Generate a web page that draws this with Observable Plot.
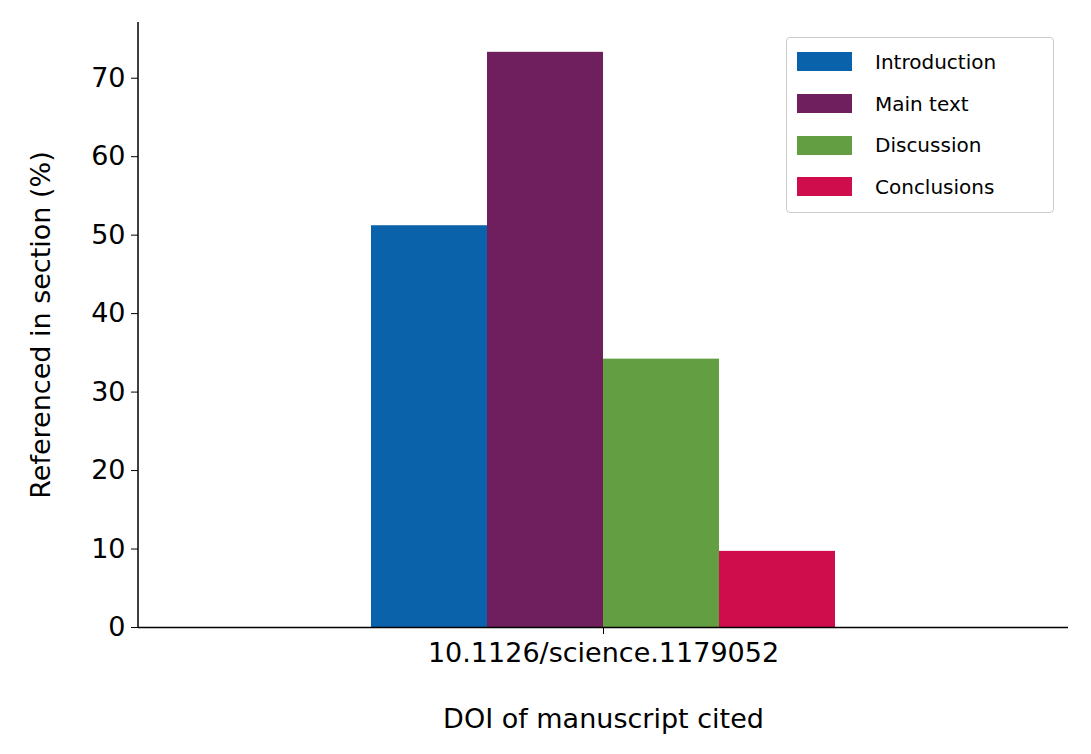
<!DOCTYPE html>
<html>
<head>
<meta charset="utf-8">
<script src="https://cdn.jsdelivr.net/npm/d3@7"></script>
<script src="https://cdn.jsdelivr.net/npm/@observablehq/plot@0.6"></script>
<style>
  body { margin: 0; font-family: "DejaVu Sans", sans-serif; }
  #chart { position: relative; width: 1091px; height: 754px; }
  #legend { position: absolute; left: 786px; top: 37px; width: 268px; height: 176px;
    border: 1px solid #ccc; border-radius: 4px; background: #fff; box-sizing: border-box;
    padding: 3px 0 0 10px; font-size: 20px; }
  .item { display: flex; align-items: center; height: 41.7px; }
  .sw { width: 55px; height: 19px; margin-right: 23px; }
</style>
</head>
<body>
<div id="chart"></div>
<script>
const doi = "10.1126/science.1179052"
const sections = ["Introduction", "Main text", "Discussion", "Conclusions"]
const values = [51.2, 73.3, 34.2, 9.7]
const colors = ["#0a62ab", "#6f1f5e", "#639f42", "#cf0d4c"]

const data = sections.map((s, i) => ({doi, section: s, value: values[i]}))

let chart = Plot.plot({
  width: 1091,
  height: 754,
  marginLeft: 138,
  marginRight: 23,
  marginTop: 22,
  marginBottom: 127,
  style: {fontFamily: "DejaVu Sans, sans-serif", fontSize: "27px", color: "#000"},
  fx: {padding: 0},
  x: {domain: sections, paddingInner: 0, paddingOuter: 2, axis: null},
  y: {domain: [0, 77.1]},
  color: {domain: sections, range: colors},
  marks: [
    Plot.barY(data, {fx: "doi", x: "section", y: "value", fill: "section", inset: 0}),
    Plot.ruleY([0], {stroke: "#000", strokeWidth: 1.5}),
    Plot.axisY({ticks: [0, 10, 20, 30, 40, 50, 60, 70], tickSize: 7, tickPadding: 6,
      label: "Referenced in section (%)", labelAnchor: "center", labelArrow: "none", labelOffset: 108}),
    Plot.axisFx({anchor: "bottom", tickSize: 7, tickPadding: 8, label: "DOI of manuscript cited",
      labelAnchor: "center", labelArrow: "none", labelOffset: 100})
  ]
})
const svg = d3.select(chart)
svg.selectAll("text").style("font-size", "27px")
d3.select('#chart').append(() => chart)

// left spine
svg.append("line").attr("x1", 138).attr("x2", 138).attr("y1", 22).attr("y2", 627)
  .attr("stroke", "#000").attr("stroke-width", 1.5)

const legend = d3.select('#chart').append('div').attr('id', 'legend')
sections.forEach((s, i) => {
  const it = legend.append('div').attr('class', 'item')
  it.append('div').attr('class', 'sw').style('background', colors[i])
  it.append('span').text(s)
})
</script>
</body>
</html>
